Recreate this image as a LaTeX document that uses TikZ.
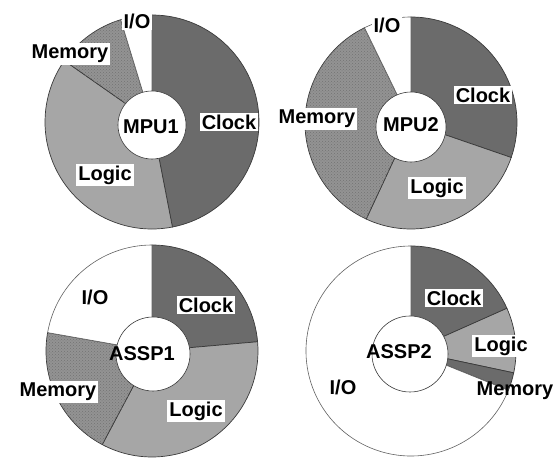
\documentclass[tikz,border=0pt]{standalone}
\usepackage{fontspec}
\setmainfont{Liberation Sans}
\usetikzlibrary{patterns}
\definecolor{clockc}{HTML}{6B6B6B}
\definecolor{logicc}{HTML}{A6A6A6}
\definecolor{memc}{HTML}{939393}
\definecolor{linec}{HTML}{3A3A3A}
\newcommand\pieslice[5]{% center, start, end, radius, style
  \filldraw[#5] (#1) -- ++(#2:#4) arc[start angle=#2, end angle=#3, radius=#4] -- cycle;}
\tikzset{
  clockslice/.style={fill=clockc, draw=linec, line width=0.7pt},
  logicslice/.style={fill=logicc, draw=linec, line width=0.7pt},
  memslice/.style={fill=memc, draw=linec, line width=0.7pt, postaction={pattern=crosshatch dots, pattern color=black!55}},
  ioslice/.style={fill=white, draw=linec!80, line width=0.6pt},
  hole/.style={circle, fill=white, draw=linec, line width=0.6pt, inner sep=0pt},
  lbl/.style={fill=white, inner xsep=2pt, inner ysep=2pt, font=\fontsize{20}{20}\selectfont\bfseries},
  ttl/.style={font=\fontsize{20}{20}\selectfont\bfseries, inner sep=0pt}
}
\begin{document}
\begin{tikzpicture}[x=1pt,y=1pt]
\useasboundingbox (0,0) rectangle (555,458);
\clip (0,0) rectangle (555,458);
% ---------- MPU1 ----------
\coordinate (c1) at (152,336);
\pieslice{c1}{90}{-79}{107}{clockslice}
\pieslice{c1}{-79}{-215}{107}{logicslice}
\pieslice{c1}{-215}{-253}{107}{memslice}
\pieslice{c1}{-253}{-270}{107}{ioslice}
\node[hole, minimum size=68pt] (h1) at (152,333) {};
\node[ttl] (t1) at (151,331) {MPU1};
\node[lbl] (io1) at (137,437) {I/O};
\node[lbl] (mem1) at (70,404) {Memory\hspace{12pt}};
\node[lbl] (clk1) at (229,336) {Clock};
\node[lbl] (log1) at (105,283) {Logic\hspace{4pt}};
% ---------- MPU2 ----------
\coordinate (c2) at (411,335);
\pieslice{c2}{90}{-19}{106}{clockslice}
\pieslice{c2}{-19}{-115}{106}{logicslice}
\pieslice{c2}{-115}{-244}{106}{memslice}
\pieslice{c2}{-244}{-270}{106}{ioslice}
\node[hole, minimum size=70pt] (h2) at (411,331) {};
\node[ttl] (t2) at (411,333) {MPU2};
\node[lbl] (io2) at (387,433) {I/O};
\node[lbl] (mem2) at (317,339) {Memory\hspace{12pt}};
\node[lbl] (clk2) at (483,363) {Clock};
\node[lbl] (log2) at (437,270) {Logic\hspace{4pt}};
% ---------- ASSP1 ----------
\coordinate (c3) at (152,107);
\pieslice{c3}{90}{5}{106}{clockslice}
\pieslice{c3}{5}{-118}{106}{logicslice}
\pieslice{c3}{-118}{-190}{106}{memslice}
\pieslice{c3}{-190}{-270}{106}{ioslice}
\node[hole, minimum size=74pt] (h3) at (153,104) {};
\node[ttl] (t3) at (142,104) {ASSP1};
\node[lbl, fill=none] (io3) at (95,161) {I/O};
\node[lbl] (mem3) at (58,66) {Memory\hspace{12pt}};
\node[lbl] (clk3) at (206,153) {Clock};
\node[lbl] (log3) at (196,47) {Logic};
% ---------- ASSP2 ----------
\coordinate (c4) at (411,107);
\pieslice{c4}{90}{24}{105}{clockslice}
\pieslice{c4}{24}{-12}{105}{logicslice}
\pieslice{c4}{-12}{-22}{105}{clockslice}
\pieslice{c4}{-22}{-270}{105}{ioslice}
\node[hole, minimum size=76pt] (h4) at (410,104) {};
\node[ttl] (t4) at (399,106) {ASSP2};
\node[lbl] (clk4) at (454,160) {Clock};
\node[lbl] (log4) at (501,112) {Logic};
\node[lbl, fill=none, inner xsep=0pt] (mem4) at (515,67) {Memory};
\node[lbl, fill=none] (io4) at (343,71) {I/O};
\end{tikzpicture}
\end{document}
